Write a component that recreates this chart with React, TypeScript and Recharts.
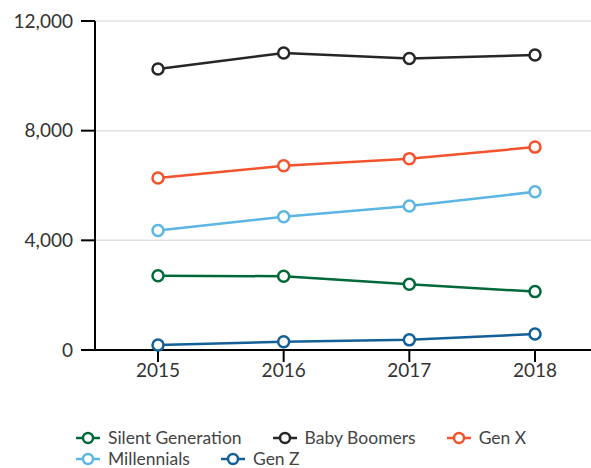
import React from "react";
import { LineChart, Line, XAxis, YAxis, CartesianGrid } from "recharts";

const years = ["2015", "2016", "2017", "2018"];
const silentGeneration = [2710, 2690, 2400, 2130];
const babyBoomers = [10250, 10830, 10630, 10760];
const genX = [6270, 6720, 6980, 7400];
const millennials = [4360, 4860, 5250, 5770];
const genZ = [180, 300, 370, 580];
const yTicks = [0, 4000, 8000, 12000];

const series = [
  { key: "silent", name: "Silent Generation", values: silentGeneration, color: "#00693a" },
  { key: "boomers", name: "Baby Boomers", values: babyBoomers, color: "#262626" },
  { key: "genx", name: "Gen X", values: genX, color: "#f4522c" },
  { key: "millennials", name: "Millennials", values: millennials, color: "#5bb6e4" },
  { key: "genz", name: "Gen Z", values: genZ, color: "#135f97" },
];

const data = years.map((year, i) => {
  const row: Record<string, string | number> = { year };
  series.forEach((s) => { row[s.key] = s.values[i]; });
  return row;
});

const font = "Lato, 'Open Sans', sans-serif";

function LegendIcon({ color }: { color: string }) {
  return (
    <svg width={26} height={14} style={{ marginRight: 7, flexShrink: 0 }}>
      <line x1={1} y1={7} x2={25} y2={7} stroke={color} strokeWidth={2.5} />
      <circle cx={13} cy={7} r={5} fill="#fff" stroke={color} strokeWidth={2.5} />
    </svg>
  );
}

export default function App() {
  return (
    <div style={{ position: "absolute", left: 0, top: 0, width: 591, height: 468, background: "#fff", fontFamily: font }}>
      <LineChart width={591} height={400} data={data} margin={{ top: 21, right: 0, bottom: 10, left: 0 }}>
        <CartesianGrid vertical={false} stroke="#e2e2e2" strokeWidth={1.5} />
        <XAxis
          dataKey="year"
          scale="point"
          padding={{ left: 63, right: 56 }}
          height={40}
          stroke="#000"
          strokeWidth={2}
          tickSize={12}
          tick={{ fill: "#333", fontSize: 19, fontFamily: font }}
        />
        <YAxis
          width={95}
          domain={[0, 12000]}
          ticks={yTicks}
          stroke="#000"
          strokeWidth={2}
          tickSize={14}
          tickMargin={8}
          tick={{ fill: "#333", fontSize: 19, fontFamily: font }}
          tickFormatter={(v: number) => v.toLocaleString("en-US")}
        />
        {series.map((s) => (
          <Line
            key={s.key}
            dataKey={s.key}
            name={s.name}
            stroke={s.color}
            strokeWidth={2.5}
            dot={{ r: 5.5, fill: "#fff", stroke: s.color, strokeWidth: 2.5 }}
            isAnimationActive={false}
          />
        ))}
      </LineChart>
      <div
        style={{
          position: "absolute", top: 429, left: 75, width: 500,
          display: "flex", flexWrap: "wrap", columnGap: 30, rowGap: 4,
          fontSize: 17.5, lineHeight: "17px", color: "#444",
        }}
      >
        {series.map((s) => (
          <span key={s.key} style={{ display: "flex", alignItems: "center" }}>
            <LegendIcon color={s.color} />
            {s.name}
          </span>
        ))}
      </div>
    </div>
  );
}
